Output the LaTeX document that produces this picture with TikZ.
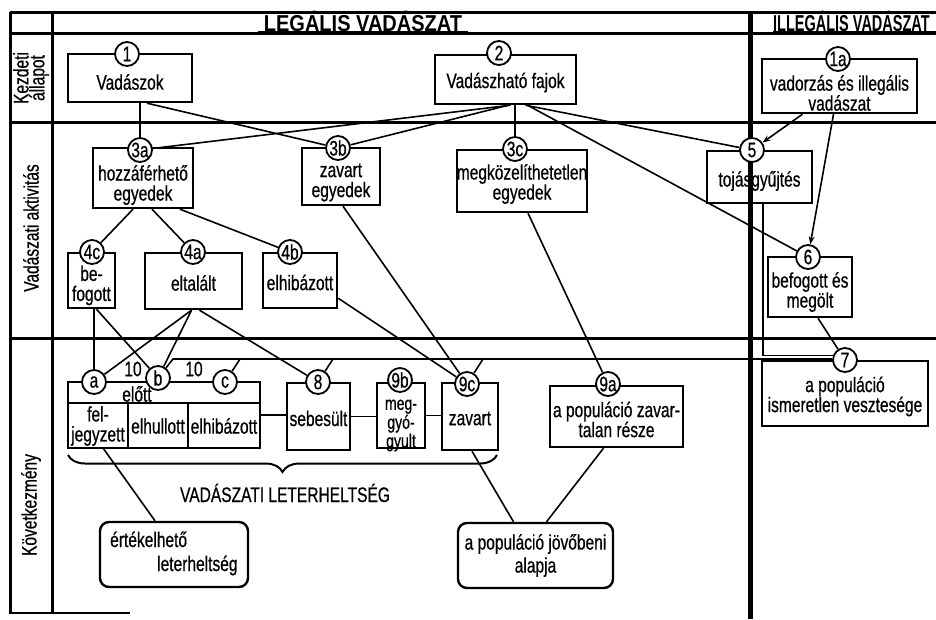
\documentclass[tikz,border=0pt]{standalone}
\usepackage{fontspec}
\setmainfont[FakeStretch=0.74,FakeBold=0.6]{Liberation Sans}
\newfontfamily\headfont[FakeStretch=0.87]{Liberation Sans}
\newfontfamily\narrowhead[FakeStretch=0.63]{Liberation Sans}
\usetikzlibrary{arrows.meta,decorations.pathreplacing}
\begin{document}
\begin{tikzpicture}[x=1pt,y=-1pt,
  every node/.style={inner sep=0pt},
  txt/.style={font=\fontsize{21}{20}\selectfont, align=center},
  box/.style={txt, draw, line width=2.4pt},
  soft/.style={box, rounded corners=9pt},
  num/.style={circle, draw, fill=white, line width=1.8pt, minimum size=24pt,
              font=\fontsize{21}{21}\selectfont},
  conn/.style={line width=1.6pt},
  arrowconn/.style={conn, -{Stealth[length=8pt,width=6pt]}},
  divider/.style={line width=3pt},
  cellline/.style={line width=2.4pt},
  lane/.style={align=center, rotate=90, font=\fontsize{21}{16}\selectfont},
]
% page
\fill[white] (0,0) rectangle (936,619);
\useasboundingbox (0,0) rectangle (936,619);

% frame, lanes and the legal / illegal split
\draw[divider] (10,12) -- (936,12);
\draw[divider] (10,12) -- (10,614);
\draw[divider] (52,12) -- (52,614);
\draw[divider] (10,33) -- (936,33);
\draw[line width=4pt] (258,33) -- (468,33);
\draw[line width=4pt] (773,33) -- (936,33);
\draw[divider] (10,122) -- (936,122);
\draw[divider] (10,338) -- (936,338);
\draw[line width=2pt] (10,613) -- (130,613);
\draw[line width=5pt] (750,12) -- (750,619);

% headings
\node[font=\headfont\bfseries\fontsize{23}{23}\selectfont, anchor=base] (tlegal) at (363,31) {LEGÁLIS VADÁSZAT};
\node[font=\narrowhead\bfseries\fontsize{23}{23}\selectfont, anchor=base west] (tillegal) at (773,31) {ILLEGÁLIS VADÁSZAT};

\node[lane] (lane1) at (31,78) {Kezdeti\\állapot};
\node[lane] (lane2) at (31,228) {Vadászati aktivitás};
\node[lane] (lane3) at (31,505) {Következmény};

% boxes
\node[box, minimum width=124pt, minimum height=48pt] (b1) at (130,78) {};
\node[box, minimum width=141pt, minimum height=49pt] (b2) at (505.5,79.5) {};
\node[box, minimum width=155pt, minimum height=54pt] (b1a) at (839.5,86) {};
\node[box, minimum width=100pt, minimum height=60pt] (b3a) at (143,178) {};
\node[box, minimum width=78pt, minimum height=57pt] (b3b) at (341,176.5) {};
\node[box, minimum width=130pt, minimum height=62pt] (b3c) at (522,181) {};
\node[box, minimum width=105pt, minimum height=52pt] (b5) at (759.5,177) {};
\node[box, minimum width=47pt, minimum height=55pt] (b4c) at (91.5,280.5) {};
\node[box, minimum width=97pt, minimum height=56pt] (b4a) at (193.5,281) {};
\node[box, minimum width=74pt, minimum height=55pt] (b4b) at (300,280.5) {};
\node[box, minimum width=84pt, minimum height=60pt] (b6) at (810,287) {};
\node[box, minimum width=192pt, minimum height=66pt] (bres) at (164,415) {};
\node[box, minimum width=63pt, minimum height=67pt] (b8) at (318.5,416.5) {};
\node[box, minimum width=48pt, minimum height=65pt] (b9b) at (401,415.5) {};
\node[box, minimum width=56pt, minimum height=67pt] (b9c) at (470,416.5) {};
\node[box, minimum width=133pt, minimum height=61pt] (b9a) at (616.5,416.5) {};
\node[box, minimum width=166pt, minimum height=65pt] (b7) at (845,393.5) {};
\node[soft, minimum width=148pt, minimum height=65pt] (bert) at (174,554.5) {};
\node[soft, minimum width=155pt, minimum height=65pt] (bjov) at (535.5,555.5) {};

% box texts
\node[txt] (t1) at ([yshift=-4pt]b1.center) {Vadászok};
\node[txt] (t2) at ([yshift=-3pt]b2.center) {Vadászható fajok};
\node[txt] (t1a) at ([yshift=-7pt]b1a.center) {vadorzás és illegális\\vadászat};
\node[txt] (t3a) at ([yshift=-7pt]b3a.center) {hozzáférhető\\egyedek};
\node[txt] (t3b) at ([yshift=-6pt]b3b.center) {zavart\\egyedek};
\node[txt] (t3c) at ([yshift=-3pt]b3c.center) {megközelíthetetlen\\egyedek};
\node[txt] (t5) at ([yshift=-4pt]b5.center) {tojásgyűjtés};
\node[txt] (t4c) at ([yshift=-5pt]b4c.center) {be-\\fogott};
\node[txt] (t4a) at ([yshift=-2pt]b4a.center) {eltalált};
\node[txt] (t4b) at ([yshift=-2pt]b4b.center) {elhibázott};
\node[txt] (t6) at ([yshift=-5pt]b6.center) {befogott és\\megölt};
\node[txt] (t8) at ([yshift=-2pt]b8.center) {sebesült};
\node[txt, font=\fontsize{19}{14}\selectfont] (t9b) at ([yshift=-10pt]b9b.center) {meg-\\gyó-\\gyult};
\node[txt] (t9c) at ([yshift=-2pt]b9c.center) {zavart};
\node[txt] (t9a) at ([yshift=-3pt]b9a.center) {a populáció zavar-\\talan része};
\node[txt] (t7) at ([yshift=-3pt]b7.center) {a populáció\\ismeretlen vesztesége};
\node[txt, font=\fontsize{21}{23}\selectfont] (tjov) at (bjov.center) {a populáció jövőbeni\\alapja};
\node[txt, anchor=base west] (tert1) at (110,547) {értékelhető};
\node[txt, anchor=base west] (tert2) at (157,571) {leterheltség};

% cells of the hunting outcome box
\draw[cellline] (68,403) -- (260,403) (128,403) -- (128,448) (188,403) -- (188,448);
\node[txt] (tpre) at (137,394) {előtt};
\node[txt] (tfel) at (98,426) {fel-\\jegyzett};
\node[txt] (tdied) at (158,426) {elhullott};
\node[txt] (tmiss) at (224,426) {elhibázott};
\node[txt] (ten1) at (133,369) {10};
\node[txt] (ten2) at (194,369) {10};

% numbered markers
\node[num] (c1) at (127,54) {1};
\node[num] (c2) at (499,53) {2};
\node[num] (c1a) at (838,59) {1a};
\node[num] (c3a) at (140,150) {3a};
\node[num] (c3b) at (338,148) {3b};
\node[num] (c3c) at (515,149) {3c};
\node[num] (c5) at (752,150) {5};
\node[num] (c4c) at (92,252) {4c};
\node[num] (c4a) at (193,252) {4a};
\node[num] (c4b) at (290,252) {4b};
\node[num] (c6) at (808,257) {6};
\node[num] (ca) at (94,382) {a};
\node[num] (cb) at (158,378) {b};
\node[num] (cc) at (225,382) {c};
\node[num] (c8) at (318,382) {8};
\node[num] (c9b) at (400,380) {9b};
\node[num] (c9c) at (467,384) {9c};
\node[num] (c9a) at (608,384) {9a};
\node[num] (c7) at (845,360) {7};

% initial state -> hunting activity
\draw[conn] (b1.south -| c3a) -- (c3a);
\draw[conn] ([xshift=17pt]b1.south) -- (c3b);
\draw[conn] ([xshift=5pt]b2.south) -- (c3a);
\draw[conn] ([xshift=3pt]b2.south) -- (c3b);
\draw[conn] (b2.south -| c3c) -- (c3c);
\draw[conn] ([xshift=20pt]b2.south) -- (c5);
\draw[conn] ([xshift=22pt]b2.south) -- (c6);
\draw[arrowconn] ([xshift=-37pt]b1a.south) -- (c5);
\draw[arrowconn] ([xshift=-6pt]b1a.south) -- (c6);

% within hunting activity
\draw[conn] ([xshift=-10pt]b3a.south) -- (c4c);
\draw[conn] ([xshift=9pt]b3a.south) -- (c4a);
\draw[conn] ([xshift=37pt]b3a.south) -- (c4b);

% hunting activity -> outcome
\draw[conn] (b4c.south -| ca) -- (ca);
\draw[conn] ([xshift=5pt]b4c.south) -- (cb);
\draw[conn] ([xshift=-2pt]b4a.south) -- (ca);
\draw[conn] ([xshift=-2pt]b4a.south) -- (cb);
\draw[conn] ([xshift=6pt]b4a.south) -- (c8);
\draw[conn] ([xshift=2pt]b3b.south) -- (c9c);
\draw[conn] ([yshift=11pt]b4b.south east) -- (c9c);
\draw[conn] ([xshift=6pt]b3c.south) -- (c9a);
\draw[conn] ([xshift=8pt]b6.south) -- (c7);
\draw[conn] ([xshift=3.5pt]b5.south) |- (c7.160);

% unknown losses collected towards 7
\coordinate (busL) at (173,359);
\coordinate (jc) at (240,359);
\coordinate (j8) at (333,359);
\coordinate (j9c) at (483,359);
\draw[conn] (cb) -- (busL) -- (busL -| c7.west);
\draw[conn] (cc) -- (jc);
\draw[conn] (c8) -- (j8);
\draw[conn] (c9c) -- (j9c);

% outcome chain
\draw[conn] (bres.east) -- (bres.east -| b8.west);
\draw[conn] (b8.east) -- (b8.east -| b9b.west);
\draw[conn] (b9b.east) -- (b9b.east -| b9c.west);

% outcome -> evaluation
\coordinate (felbot) at (103,448);
\draw[conn] (felbot) -- ([xshift=-19pt]bert.north);
\draw[conn] ([xshift=2pt]b9c.south) -- ([xshift=-22pt]bjov.north);
\draw[conn] ([xshift=-13pt]b9a.south) -- ([xshift=11pt]bjov.north);

% hunting load brace
\draw[line width=2pt, decorate, decoration={brace, mirror, amplitude=17pt}] (68,455) -- (497,455);
\node[txt] (load) at (285,493) {VADÁSZATI LETERHELTSÉG};
\end{tikzpicture}
\end{document}
